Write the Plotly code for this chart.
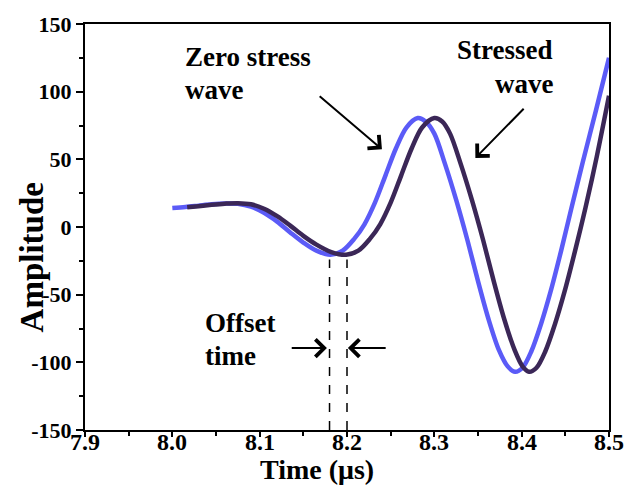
import plotly.graph_objects as go

# Zero stress wave (time in µs, amplitude)
t_zero = [8.000, 8.015, 8.030, 8.045, 8.060, 8.075, 8.090, 8.105, 8.120, 8.135,
          8.150, 8.165, 8.181, 8.195, 8.208, 8.220, 8.232, 8.244, 8.256, 8.268,
          8.281, 8.290, 8.300, 8.312, 8.325, 8.338, 8.350, 8.362, 8.374, 8.384,
          8.3925, 8.401, 8.411, 8.422, 8.433, 8.445, 8.457, 8.470, 8.485, 8.500]
a_zero = [14.0, 14.8, 15.8, 16.8, 17.4, 17.2, 15.0, 10.5, 4.0, -4.0,
          -11.5, -17.5, -20.5, -17.5, -9, 2, 18, 38, 58, 73.5,
          80.5, 78, 69, 47, 20, -10, -40, -68, -91, -103,
          -107, -104, -92, -72, -48, -18, 14, 48, 86, 125]

# Stressed wave
t_stress = [8.017, 8.030, 8.045, 8.060, 8.075, 8.090, 8.105, 8.120, 8.135, 8.150,
            8.165, 8.182, 8.199, 8.213, 8.226, 8.238, 8.250, 8.262, 8.274, 8.286,
            8.300, 8.309, 8.318, 8.330, 8.343, 8.356, 8.368, 8.380, 8.392, 8.401,
            8.4085, 8.417, 8.427, 8.438, 8.449, 8.461, 8.473, 8.486, 8.500]
a_stress = [14.6, 15.4, 16.4, 17.2, 17.6, 16.8, 13.5, 8.0, 1.0, -6.5,
            -13, -18.5, -20.5, -17.5, -9, 2, 18, 38, 58, 73.5,
            80.5, 78, 69, 47, 20, -10, -40, -68, -91, -103,
            -107, -104, -92, -72, -48, -18, 14, 52, 97]

x_ticks = [7.9, 8.0, 8.1, 8.2, 8.3, 8.4, 8.5]
x_tick_text = ["7.9", "8.0", "8.1", "8.2", "8.3", "8.4", "8.5"]
y_ticks = [-150, -100, -50, 0, 50, 100, 150]
y_tick_text = ["-150", "-100", "-50", "0", "50", "100", "150"]

# Arrival times marking the offset between the two troughs
offset_times = [8.18, 8.20]

SERIF = "Liberation Serif, Times New Roman, serif"
BLUE = "#5b5bf7"
PURPLE = "#3b2757"

fig = go.Figure()
fig.add_trace(go.Scatter(x=t_zero, y=a_zero, mode="lines", name="Zero stress wave",
                         line=dict(color=BLUE, width=4.5, shape="spline", smoothing=0.9)))
fig.add_trace(go.Scatter(x=t_stress, y=a_stress, mode="lines", name="Stressed wave",
                         line=dict(color=PURPLE, width=4.5, shape="spline", smoothing=0.9)))

# dashed markers for the offset time
for t in offset_times:
    fig.add_shape(type="line", xref="x", yref="y", x0=t, x1=t, y0=-150, y1=-24,
                  line=dict(color="black", width=1.5, dash="dash"))

def label(text, x, y, anchor):
    fig.add_annotation(x=x, y=y, xref="x", yref="y", text="<b>%s</b>" % text,
                       showarrow=False, xanchor=anchor, yanchor="middle",
                       font=dict(family=SERIF, size=27, color="black"))

def arrow(x_tail, y_tail, x_head, y_head):
    fig.add_annotation(x=x_head, y=y_head, ax=x_tail, ay=y_tail,
                       xref="x", yref="y", axref="x", ayref="y", text="",
                       showarrow=True, arrowhead=4, arrowsize=1.7, arrowwidth=2,
                       arrowcolor="black", standoff=0, startstandoff=0)

label("Zero stress", 8.012, 125.5, "left")
label("wave", 8.012, 101, "left")
label("Stressed", 8.438, 131, "right")
label("wave", 8.438, 106, "right")
label("Offset", 8.035, -71, "left")
label("time", 8.035, -95, "left")

arrow(8.167, 97.5, 8.240, 57.5)
arrow(8.404, 88.5, 8.347, 51)
arrow(8.135, -89.5, 8.177, -89.5)
arrow(8.246, -89.5, 8.201, -89.5)

# x tick labels sit tight under the axis
for v, s in zip(x_ticks, x_tick_text):
    fig.add_annotation(x=v, y=-0.030, xref="x", yref="paper", text="<b>%s</b>" % s,
                       showarrow=False, xanchor="center", yanchor="middle",
                       font=dict(family=SERIF, size=24, color="black"))

# axis titles
fig.add_annotation(x=-0.102, y=0.424, xref="paper", yref="paper", text="<b>Amplitude</b>",
                   textangle=-90, showarrow=False, xanchor="center", yanchor="middle",
                   font=dict(family=SERIF, size=33, color="black"))
fig.add_annotation(x=0.442, y=-0.097, xref="paper", yref="paper", text="<b>Time (μs)</b>",
                   showarrow=False, xanchor="center", yanchor="middle",
                   font=dict(family=SERIF, size=28, color="black"))

axis_common = dict(showline=True, linecolor="black", linewidth=2, mirror=True,
                   showgrid=False, zeroline=False, ticks="outside", tickcolor="black",
                   tickwidth=1.5)

fig.update_xaxes(range=[7.9, 8.5], tickvals=x_ticks, ticklen=5, showticklabels=False,
                 minor=dict(dtick=0.05, tick0=7.9, ticks="outside", ticklen=4,
                            tickcolor="black", tickwidth=1.5),
                 **axis_common)
fig.update_yaxes(range=[-150, 150], tickvals=y_ticks, ticklen=7,
                 ticktext=["<b>%s</b>" % s for s in y_tick_text],
                 tickfont=dict(family=SERIF, size=22, color="black"),
                 minor=dict(dtick=25, tick0=-150, ticks="outside", ticklen=4,
                            tickcolor="black", tickwidth=1.5),
                 **axis_common)

fig.update_layout(width=639, height=495, margin=dict(l=85, r=30, t=24, b=65),
                  plot_bgcolor="white", paper_bgcolor="white", showlegend=False)

fig.write_html("out.html")
